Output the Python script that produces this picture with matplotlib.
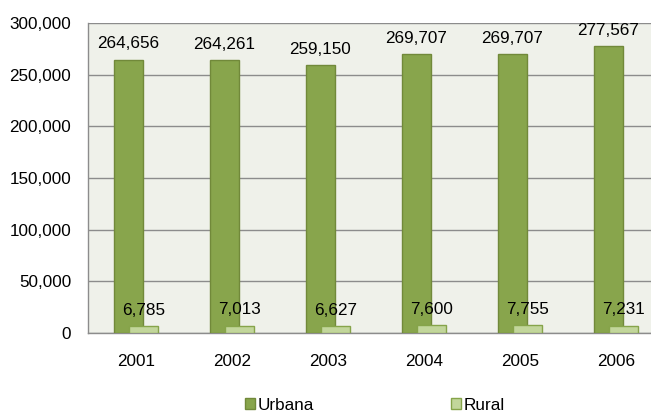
import numpy as np
import matplotlib.pyplot as plt
from matplotlib.ticker import FuncFormatter

plt.rcParams['font.family'] = ['Liberation Sans', 'DejaVu Sans']

# Population by year
years = ['2001', '2002', '2003', '2004', '2005', '2006']
urbana = [264656, 264261, 259150, 269707, 269707, 277567]
rural = [6785, 7013, 6627, 7600, 7755, 7231]

fs = 12.3
x = np.arange(len(years))
w = 0.3
off = 0.08

fig = plt.figure(figsize=(6.51, 4.12), dpi=100)
# axes run off the right edge on purpose
ax = fig.add_axes([88 / 651, 79 / 412, 576 / 651, 310 / 412])
ax.set_facecolor('#EFF1EA')

b1 = ax.bar(x - off, urbana, w, color='#88A54C', edgecolor='#71893A',
            linewidth=1, label='Urbana', zorder=3)
b2 = ax.bar(x + off, rural, w, color='#C2D69B', edgecolor='#86A44A',
            linewidth=1, label='Rural', zorder=4)

for xi, v in zip(x, urbana):
    ax.annotate(f'{v:,}', (xi - off, v), xytext=(0, 6), textcoords='offset points',
                ha='center', va='bottom', fontsize=fs, zorder=5)
for xi, v in zip(x, rural):
    ax.annotate(f'{v:,}', (xi + off, v), xytext=(0, 6), textcoords='offset points',
                ha='center', va='bottom', fontsize=fs, zorder=5)

ax.set_xlim(-0.5, 5.5)
ax.set_ylim(0, 300000)
ax.set_yticks(np.arange(0, 300001, 50000))
ax.yaxis.set_major_formatter(FuncFormatter(lambda v, p: f'{int(v):,}'))
ax.set_xticks(x)
ax.set_xticklabels(years)
ax.grid(axis='y', color='#8C8C8C', linewidth=1, zorder=1)
ax.tick_params(axis='x', length=0, pad=15, labelsize=fs)
ax.tick_params(axis='y', length=0, pad=12, labelsize=fs)
for s in ['top', 'right']:
    ax.spines[s].set_visible(False)
for s in ['left', 'bottom']:
    ax.spines[s].set_color('#8C8C8C')
    ax.spines[s].set_linewidth(1)

fig.legend(handles=[b1, b2], ncol=2, loc='center', frameon=False,
           bbox_to_anchor=(375 / 651, 1 - 405 / 412), fontsize=fs,
           handlelength=0.6, handleheight=0.6, handletextpad=0.15,
           columnspacing=8.0, borderpad=0)

plt.savefig('out.png', dpi=100)
